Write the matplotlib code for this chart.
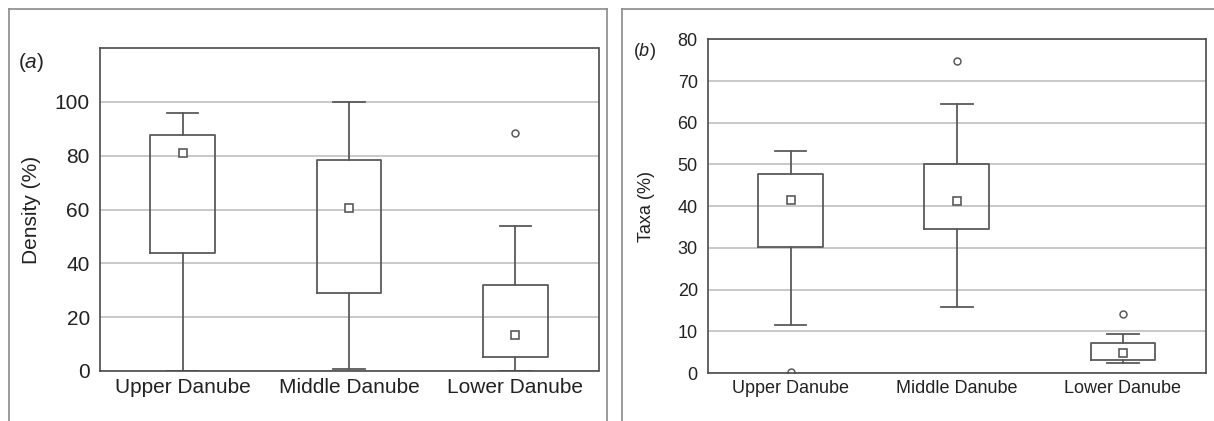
import matplotlib
matplotlib.use("Agg")
import matplotlib.pyplot as plt
from matplotlib.lines import Line2D

plt.rcParams['font.family'] = ['Liberation Sans', 'DejaVu Sans']
plt.rcParams['mathtext.fontset'] = 'custom'
plt.rcParams['mathtext.rm'] = 'Liberation Sans'
plt.rcParams['mathtext.it'] = 'Liberation Sans:italic'

# Regions along the river
regions = ["Upper Danube", "Middle Danube", "Lower Danube"]

# (a) Density (%): median, quartiles, whisker ends, outliers
density_med = [81.0, 60.5, 13.2]
density_q1 = [43.7, 28.9, 5.3]
density_q3 = [87.6, 78.5, 31.9]
density_lo = [0.0, 0.7, 0.0]
density_hi = [95.7, 99.8, 53.8]
density_out = [[], [], [88.4]]

# (b) Taxa (%)
taxa_med = [41.4, 41.2, 4.8]
taxa_q1 = [30.3, 34.5, 3.0]
taxa_q3 = [47.7, 50.0, 7.1]
taxa_lo = [11.4, 15.8, 2.3]
taxa_hi = [53.3, 64.6, 9.3]
taxa_out = [[0.2], [74.8], [14.2]]

LINE = "#5a5a5a"
GRID = "#c9c9c9"
SPINE = "#4a4a4a"
FRAME = "#8a8a8a"

W, H = 1214, 421
fig = plt.figure(figsize=(W / 100, H / 100), dpi=100)


def make_stats(med, q1, q3, lo, hi, out):
    return [dict(med=m, q1=a, q3=b, whislo=l, whishi=h, fliers=o, label=r)
            for m, a, b, l, h, o, r in zip(med, q1, q3, lo, hi, out, regions)]


def draw_panel(rect, stats, ylim, yticks, ylabel, tick_fs, xlab_fs, label_fs,
               labelpad):
    ax = fig.add_axes(rect)
    pos = list(range(len(regions)))
    ax.bxp(stats, positions=pos, widths=0.39, showfliers=True,
           boxprops=dict(color=LINE, linewidth=1.3),
           whiskerprops=dict(color=LINE, linewidth=1.3),
           capprops=dict(color=LINE, linewidth=1.3),
           capwidths=0.19,
           medianprops=dict(linewidth=0),
           flierprops=dict(marker='o', markersize=5, markerfacecolor='white',
                           markeredgecolor=LINE, markeredgewidth=1.1))
    ax.plot(pos, [s['med'] for s in stats], linestyle='none', marker='s',
            markersize=5.5, markerfacecolor='white', markeredgecolor=LINE,
            markeredgewidth=1.2, zorder=4)
    ax.set_xlim(-0.5, len(regions) - 0.5)
    ax.set_ylim(*ylim)
    ax.set_yticks(yticks)
    ax.set_xticks(pos)
    ax.set_xticklabels(regions, fontsize=xlab_fs)
    ax.tick_params(axis='y', labelsize=tick_fs, length=0, pad=7, labelcolor="#222222")
    ax.tick_params(axis='x', length=0, pad=5, labelcolor="#222222")
    ax.yaxis.grid(True, color=GRID, linewidth=1.4)
    ax.set_axisbelow(True)
    for sp in ax.spines.values():
        sp.set_color(SPINE)
        sp.set_linewidth(1.2)
    ax.set_ylabel(ylabel, fontsize=label_fs, labelpad=labelpad, color="#222222")
    return ax


ax_a = draw_panel([99.5 / W, 1 - 371 / H, 499 / W, 323 / H],
                  make_stats(density_med, density_q1, density_q3, density_lo,
                             density_hi, density_out),
                  (0, 120), [0, 20, 40, 60, 80, 100], "Density (%)",
                  15, 15, 15, 10)
ax_b = draw_panel([707.5 / W, 1 - 373 / H, 498.5 / W, 333.7 / H],
                  make_stats(taxa_med, taxa_q1, taxa_q3, taxa_lo,
                             taxa_hi, taxa_out),
                  (0, 80), [0, 10, 20, 30, 40, 50, 60, 70, 80], "Taxa (%)",
                  13, 13, 13, 16)

fig.text(18 / W, 1 - 62 / H, r"$\mathrm{(}\mathit{a}\mathrm{)}$", fontsize=15,
         ha='left', va='center', color="#222222")
fig.text(633 / W, 1 - 52 / H, r"$\mathrm{(}\mathit{b}\mathrm{)}$", fontsize=13,
         ha='left', va='center', color="#222222")


# Panel frames
def fline(xs, ys):
    fig.add_artist(Line2D([x / W for x in xs], [1 - y / H for y in ys],
                          color=FRAME, linewidth=1.2))


fline([8.5, 8.5], [421, 8.5])
fline([8.5, 606.5], [8.5, 8.5])
fline([606.5, 606.5], [8.5, 421])
fline([621.5, 621.5], [421, 8.5])
fline([621.5, 1214], [8.5, 8.5])

fig.savefig("out.png", dpi=100)
